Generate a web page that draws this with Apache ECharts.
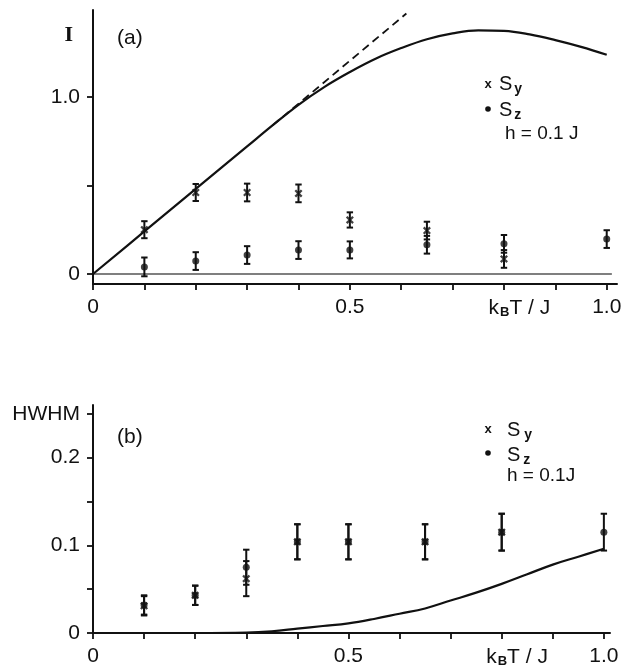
<!DOCTYPE html>
<html>
<head>
<meta charset="utf-8">
<script src="https://cdn.jsdelivr.net/npm/echarts@6/dist/echarts.min.js"></script>
<style>
html, body { margin: 0; padding: 0; background: #fff; }
#container { width: 631px; height: 671px; }
</style>
</head>
<body>
<div id="container"></div>
<script>
// (a) intensity I vs kT/J
var tA_y = [0.1, 0.2, 0.3, 0.4, 0.5, 0.65, 0.8];
var iA_y = [0.25, 0.46, 0.46, 0.455, 0.305, 0.245, 0.085];
var eA_y = [0.048, 0.048, 0.05, 0.05, 0.043, 0.05, 0.05];
var tA_z = [0.1, 0.2, 0.3, 0.4, 0.5, 0.65, 0.8, 1.0];
var iA_z = [0.04, 0.073, 0.107, 0.135, 0.136, 0.165, 0.17, 0.197];
var eA_z = [0.053, 0.05, 0.05, 0.05, 0.048, 0.05, 0.05, 0.05];
var curveA_t = [0, 0.1, 0.2, 0.3, 0.35, 0.4, 0.45, 0.5, 0.55, 0.6, 0.65, 0.7, 0.75, 0.8, 0.85, 0.9, 0.95, 1.0];
var curveA_i = [0, 0.24, 0.48, 0.72, 0.84, 0.955, 1.055, 1.14, 1.215, 1.275, 1.325, 1.358, 1.375, 1.372, 1.352, 1.32, 1.282, 1.237];
var dashA_t = [0.35, 0.61];
var dashA_i = [0.84, 1.47];
var zeroA_t = [0, 1.01];

// (b) HWHM vs kT/J
var tB_y = [0.1, 0.2, 0.3, 0.4, 0.5, 0.65, 0.8];
var hB_y = [0.031, 0.043, 0.062, 0.104, 0.104, 0.104, 0.115];
var eB_y = [0.011, 0.011, 0.02, 0.02, 0.02, 0.02, 0.021];
var tB_z = [0.1, 0.2, 0.3, 0.4, 0.5, 0.65, 0.8, 1.0];
var hB_z = [0.032, 0.043, 0.075, 0.104, 0.104, 0.104, 0.115, 0.115];
var eB_z = [0.011, 0.011, 0.02, 0.02, 0.02, 0.02, 0.021, 0.021];
var curveB_t = [0, 0.1, 0.2, 0.3, 0.35, 0.4, 0.45, 0.5, 0.55, 0.6, 0.65, 0.7, 0.75, 0.8, 0.85, 0.9, 0.95, 1.0];
var curveB_h = [0, 0, 0, 0.0005, 0.002, 0.005, 0.008, 0.011, 0.016, 0.022, 0.028, 0.037, 0.046, 0.056, 0.067, 0.078, 0.087, 0.096];

// ticks and labels
var tickX = [0, 0.1, 0.2, 0.3, 0.4, 0.5, 0.6, 0.7, 0.8, 0.9, 1.0];
var labelX = [0, 0.5, 0.83, 1.0];
var tickYa = [0, 0.5, 1.0];
var labelYa = [0, 1.0, 1.345];
var tickYb = [0, 0.05, 0.1, 0.15, 0.2, 0.25];
var labelYb = [0, 0.1, 0.2, 0.25];

var FONT = '"Liberation Sans", Arial, sans-serif';
var INK = '#111';
var crossPath = 'path://M0,2L2,0L5,3L8,0L10,2L7,5L10,8L8,10L5,7L2,10L0,8L3,5Z';

function pairs(xs, ys) {
    var out = [];
    for (var i = 0; i < xs.length; i++) out.push([xs[i], ys[i]]);
    return out;
}
function bars(xs, ys, es) {
    var out = [];
    for (var i = 0; i < xs.length; i++) out.push([xs[i], ys[i] - es[i], ys[i] + es[i]]);
    return out;
}

// error bar with small caps
function renderErrorBar(params, api) {
    var hi = api.coord([api.value(0), api.value(2)]);
    var lo = api.coord([api.value(0), api.value(1)]);
    var w = 3.2;
    var st = { stroke: INK, lineWidth: 2 };
    return {
        type: 'group',
        children: [
            { type: 'line', shape: { x1: hi[0], y1: hi[1], x2: lo[0], y2: lo[1] }, style: st },
            { type: 'line', shape: { x1: hi[0] - w, y1: hi[1], x2: hi[0] + w, y2: hi[1] }, style: st },
            { type: 'line', shape: { x1: lo[0] - w, y1: lo[1], x2: lo[0] + w, y2: lo[1] }, style: st }
        ]
    };
}

function xLabel(v) {
    if (Math.abs(v - 0.83) < 1e-6) return '{m|k}{s|B}{m|T / J}';
    if (v === 0) return '0';
    return v.toFixed(1);
}
var xRich = {
    m: { fontSize: 21, fontFamily: FONT, color: INK },
    s: { fontSize: 13, fontFamily: FONT, color: INK, fontWeight: 'bold', padding: [9, 0, 0, 1] }
};

function xAxisFor(idx, max) {
    return {
        type: 'value', gridIndex: idx, min: 0, max: max,
        axisLine: { onZero: false, lineStyle: { color: INK, width: 2 } },
        axisTick: { customValues: tickX, length: 6, lineStyle: { color: INK, width: 1.8 } },
        axisLabel: { customValues: labelX, formatter: xLabel, margin: 13, fontSize: 21, fontFamily: FONT, color: INK, rich: xRich },
        splitLine: { show: false }
    };
}

function subText(x, y, main, sub, pad) {
    return { type: 'text', x: x, y: y, style: { text: '{m|' + main + '}{s|' + sub + '}', verticalAlign: 'middle', rich: {
        m: { fontSize: 20, fontFamily: FONT, fill: INK },
        s: { fontSize: 14, fontFamily: FONT, fill: INK, fontWeight: 'bold', padding: [10, 0, 0, pad] } } } };
}

var dom = document.getElementById('container');
var myChart = echarts.init(dom);

var option = {
    backgroundColor: '#fff',
    animation: false,
    grid: [
        { left: 93, top: 10, width: 524, height: 274 },
        { left: 93, top: 405, width: 517, height: 228 }
    ],
    xAxis: [xAxisFor(0, 1.02), xAxisFor(1, 1.012)],
    yAxis: [
        {
            type: 'value', gridIndex: 0, min: -0.0565, max: 1.49,
            axisLine: { lineStyle: { color: INK, width: 2 } },
            axisTick: { customValues: tickYa, length: 6, lineStyle: { color: INK, width: 1.8 } },
            axisLabel: {
                customValues: labelYa, margin: 13, fontSize: 21, fontFamily: FONT, color: INK,
                formatter: function (v) {
                    if (v > 1.2) return '{n|I}';
                    return v === 0 ? '0' : v.toFixed(1);
                },
                rich: { n: { fontSize: 22, fontFamily: '"Liberation Serif", serif', fontWeight: 'bold', color: INK, padding: [0, 7, 0, 0] } }
            },
            splitLine: { show: false }
        },
        {
            type: 'value', gridIndex: 1, min: 0, max: 0.26,
            axisLine: { lineStyle: { color: INK, width: 2 } },
            axisTick: { customValues: tickYb, length: 6, lineStyle: { color: INK, width: 1.8 } },
            axisLabel: {
                customValues: labelYb, margin: 13, fontSize: 21, fontFamily: FONT, color: INK,
                formatter: function (v) {
                    if (v > 0.22) return 'HWHM';
                    return v === 0 ? '0' : v.toFixed(1);
                }
            },
            splitLine: { show: false }
        }
    ],
    graphic: [
        { type: 'text', x: 117, y: 38, style: { text: '(a)', font: '21px ' + FONT, fill: INK, verticalAlign: 'middle' } },
        { type: 'text', x: 117, y: 437, style: { text: '(b)', font: '21px ' + FONT, fill: INK, verticalAlign: 'middle' } },
        // legend (a)
        { type: 'text', x: 488, y: 84, style: { text: 'x', font: 'bold 13px ' + FONT, fill: INK, align: 'center', verticalAlign: 'middle' } },
        { type: 'circle', shape: { cx: 488, cy: 109, r: 2.8 }, style: { fill: INK } },
        subText(499, 84, 'S', 'y', 2),
        subText(499, 110, 'S', 'z', 2),
        { type: 'text', x: 505, y: 134, style: { text: 'h = 0.1 J', font: '19px ' + FONT, fill: INK, verticalAlign: 'middle' } },
        // legend (b)
        { type: 'text', x: 488, y: 429, style: { text: 'x', font: 'bold 13px ' + FONT, fill: INK, align: 'center', verticalAlign: 'middle' } },
        { type: 'circle', shape: { cx: 488, cy: 453, r: 2.8 }, style: { fill: INK } },
        subText(507, 430, 'S', 'y', 4),
        subText(507, 455, 'S', 'z', 3),
        { type: 'text', x: 507, y: 476, style: { text: 'h = 0.1J', font: '19px ' + FONT, fill: INK, verticalAlign: 'middle' } }
    ],
    series: [
        // panel (a)
        { type: 'line', xAxisIndex: 0, yAxisIndex: 0, data: pairs(zeroA_t, [0, 0]), symbol: 'none', silent: true,
          lineStyle: { color: '#000', width: 1.2 } },
        { type: 'line', xAxisIndex: 0, yAxisIndex: 0, data: pairs(curveA_t, curveA_i), symbol: 'none', smooth: 0.4,
          lineStyle: { color: INK, width: 2.2 } },
        { type: 'line', xAxisIndex: 0, yAxisIndex: 0, data: pairs(dashA_t, dashA_i), symbol: 'none',
          lineStyle: { color: INK, width: 1.8, type: [8, 5] } },
        { type: 'custom', xAxisIndex: 0, yAxisIndex: 0, renderItem: renderErrorBar, data: bars(tA_y, iA_y, eA_y), encode: { x: 0, y: [1, 2] } },
        { type: 'custom', xAxisIndex: 0, yAxisIndex: 0, renderItem: renderErrorBar, data: bars(tA_z, iA_z, eA_z), encode: { x: 0, y: [1, 2] } },
        { name: 'Sy', type: 'scatter', xAxisIndex: 0, yAxisIndex: 0, data: pairs(tA_y, iA_y), symbol: crossPath, symbolSize: 8,
          itemStyle: { color: INK } },
        { name: 'Sz', type: 'scatter', xAxisIndex: 0, yAxisIndex: 0, data: pairs(tA_z, iA_z), symbol: 'circle', symbolSize: 7,
          itemStyle: { color: INK } },
        // panel (b)
        { type: 'line', xAxisIndex: 1, yAxisIndex: 1, data: pairs(curveB_t, curveB_h), symbol: 'none', smooth: 0.4,
          lineStyle: { color: INK, width: 2.2 } },
        { type: 'custom', xAxisIndex: 1, yAxisIndex: 1, renderItem: renderErrorBar, data: bars(tB_y, hB_y, eB_y), encode: { x: 0, y: [1, 2] } },
        { type: 'custom', xAxisIndex: 1, yAxisIndex: 1, renderItem: renderErrorBar, data: bars(tB_z, hB_z, eB_z), encode: { x: 0, y: [1, 2] } },
        { name: 'Sy', type: 'scatter', xAxisIndex: 1, yAxisIndex: 1, data: pairs(tB_y, hB_y), symbol: crossPath, symbolSize: 8,
          itemStyle: { color: INK } },
        { name: 'Sz', type: 'scatter', xAxisIndex: 1, yAxisIndex: 1, data: pairs(tB_z, hB_z), symbol: 'circle', symbolSize: 7,
          itemStyle: { color: INK } }
    ]
};

myChart.setOption(option);
</script>
</body>
</html>
